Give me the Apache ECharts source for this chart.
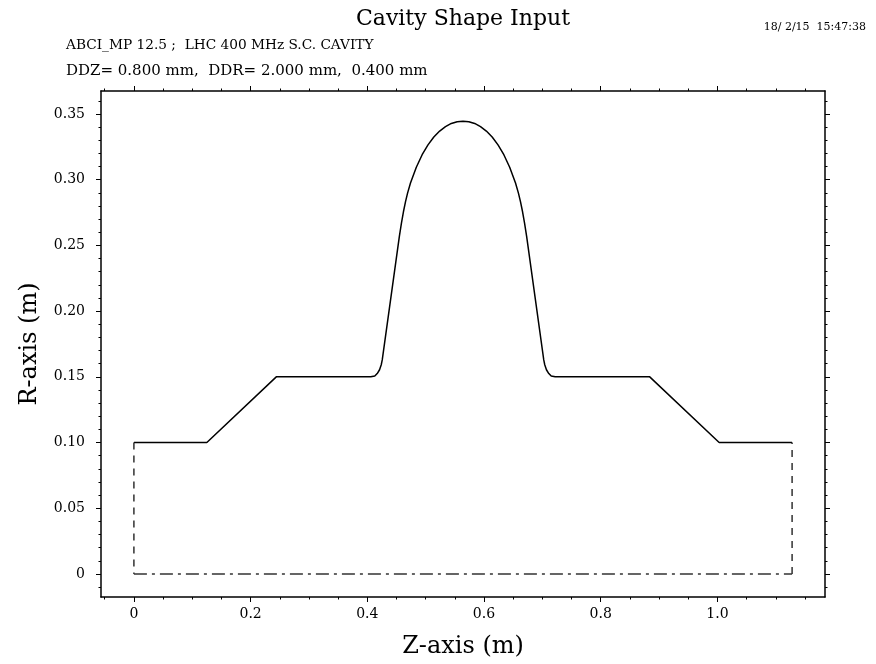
<!DOCTYPE html>
<html>
<head>
<meta charset="utf-8">
<script src="https://cdn.jsdelivr.net/npm/echarts@6/dist/echarts.min.js"></script>
<style>html,body{margin:0;padding:0;background:#fff}#c{width:876px;height:664px}</style>
</head>
<body>
<div id="c"></div>
<script>
// ---- data ----
const titleText = 'Cavity Shape Input';
const dateText = '18/ 2/15  15:47:38';
const subLine1 = 'ABCI_MP 12.5 ;  LHC 400 MHz S.C. CAVITY';
const subLine2 = 'DDZ= 0.800 mm,  DDR= 2.000 mm,  0.400 mm';
const xName = 'Z-axis (m)';
const yName = 'R-axis (m)';

// cavity wall (solid line)
const wallZ = [0, 0.125, 0.244, 0.406, 0.4128, 0.417, 0.421, 0.4239, 0.4256, 0.455, 0.4585, 0.462, 0.4655, 0.469, 0.474, 0.484, 0.494, 0.504, 0.514, 0.524, 0.534, 0.544, 0.554, 0.564,
               0.574, 0.584, 0.594, 0.604, 0.614, 0.624, 0.634, 0.644, 0.654, 0.659, 0.6625, 0.666, 0.6695, 0.673, 0.7024, 0.7041, 0.707, 0.711, 0.7152, 0.722, 0.884, 1.003, 1.128];
const wallR = [0.100, 0.100, 0.150, 0.150, 0.1506, 0.1525, 0.1554, 0.1592, 0.1629, 0.2571, 0.2670, 0.2758, 0.2833, 0.2898, 0.2975, 0.3095, 0.3190, 0.3265, 0.3325, 0.3370, 0.3404, 0.3428, 0.3441, 0.3445,
               0.3441, 0.3428, 0.3404, 0.3370, 0.3325, 0.3265, 0.3190, 0.3095, 0.2975, 0.2898, 0.2833, 0.2758, 0.2670, 0.2571, 0.1629, 0.1592, 0.1554, 0.1525, 0.1506, 0.150, 0.150, 0.100, 0.100];
// dashed end planes
const leftEndZ = [0, 0];
const leftEndR = [0.100, 0];
const rightEndZ = [1.128, 1.128];
const rightEndR = [0, 0.100];
// dash-dot beam axis
const axisZ = [0, 1.128];
const axisR = [0, 0];

// ticks
const xMajorTicks = [0, 0.2, 0.4, 0.6, 0.8, 1.0];
const xLabels = ['0', '0.2', '0.4', '0.6', '0.8', '1.0'];
const xMinorTicks = [-0.05, 0, 0.05, 0.1, 0.15, 0.2, 0.25, 0.3, 0.35, 0.4, 0.45, 0.5, 0.55, 0.6, 0.65, 0.7, 0.75, 0.8, 0.85, 0.9, 0.95, 1.0, 1.05, 1.1, 1.15];
const yMajorTicks = [0, 0.05, 0.10, 0.15, 0.20, 0.25, 0.30, 0.35];
const yLabels = ['0', '0.05', '0.10', '0.15', '0.20', '0.25', '0.30', '0.35'];
const yMinorTicks = [-0.01, 0, 0.01, 0.02, 0.03, 0.04, 0.05, 0.06, 0.07, 0.08, 0.09, 0.10, 0.11, 0.12, 0.13, 0.14, 0.15, 0.16, 0.17, 0.18, 0.19, 0.20,
                     0.21, 0.22, 0.23, 0.24, 0.25, 0.26, 0.27, 0.28, 0.29, 0.30, 0.31, 0.32, 0.33, 0.34, 0.35, 0.36];

const X_MIN = -0.0564, X_MAX = 1.1844;
const Y_MIN = -0.0175, Y_MAX = 0.3675;
const SERIF = '"DejaVu Serif", serif';

const pair = (a, b) => a.map((v, i) => [v, b[i]]);
const fmtX = v => { const i = xMajorTicks.findIndex(t => Math.abs(t - v) < 1e-9); return i >= 0 ? xLabels[i] : ''; };
const fmtY = v => { const i = yMajorTicks.findIndex(t => Math.abs(t - v) < 1e-9); return i >= 0 ? yLabels[i] : ''; };

const lineAx = { show: true, onZero: false, lineStyle: { color: '#000', width: 1.5 } };
const noAx = { show: false, onZero: false };

function xAx(pos, major, withLabel) {
  return {
    type: 'value', position: pos, min: X_MIN, max: X_MAX,
    axisLine: major ? lineAx : noAx,
    splitLine: { show: false },
    axisTick: { show: true, inside: false, length: major ? 5 : 2.5, customValues: major ? xMajorTicks : xMinorTicks, lineStyle: { color: '#000', width: 1 } },
    axisLabel: withLabel ? { show: true, customValues: xMajorTicks, formatter: fmtX, margin: 10, color: '#000', fontFamily: SERIF, fontSize: 14 } : { show: false },
    name: withLabel ? xName : '', nameLocation: 'middle', nameGap: 38,
    nameTextStyle: { fontFamily: SERIF, fontSize: 24, color: '#000' }
  };
}
function yAx(pos, major, withLabel) {
  return {
    type: 'value', position: pos, min: Y_MIN, max: Y_MAX,
    axisLine: major ? lineAx : noAx,
    splitLine: { show: false },
    axisTick: { show: true, inside: false, length: major ? 5 : 2.5, customValues: major ? yMajorTicks : yMinorTicks, lineStyle: { color: '#000', width: 1 } },
    axisLabel: withLabel ? { show: true, customValues: yMajorTicks, formatter: fmtY, margin: 16, color: '#000', fontFamily: SERIF, fontSize: 14 } : { show: false },
    name: withLabel ? yName : '', nameLocation: 'middle', nameGap: 59, nameRotate: 90,
    nameTextStyle: { fontFamily: SERIF, fontSize: 24, color: '#000' }
  };
}

const chart = echarts.init(document.getElementById('c'), null, { renderer: 'canvas' });
chart.setOption({
  animation: false,
  backgroundColor: '#fff',
  grid: { left: 101, right: 51, top: 91, bottom: 66, containLabel: false },
  xAxis: [xAx('bottom', true, true), xAx('bottom', false, false), xAx('top', true, false), xAx('top', false, false)],
  yAxis: [yAx('left', true, true), yAx('left', false, false), yAx('right', true, false), yAx('right', false, false)],
  graphic: [
    { type: 'text', x: 463, y: 19, style: { text: titleText, font: '22px ' + SERIF, fill: '#000', textAlign: 'center', textVerticalAlign: 'middle' } },
    { type: 'text', x: 866, y: 27, style: { text: dateText, font: '11px ' + SERIF, fill: '#000', textAlign: 'right', textVerticalAlign: 'middle' } },
    { type: 'text', x: 66, y: 45, style: { text: subLine1, font: '13.7px ' + SERIF, fill: '#000', textAlign: 'left', textVerticalAlign: 'middle' } },
    { type: 'text', x: 66, y: 71, style: { text: subLine2, font: '15px ' + SERIF, fill: '#000', textAlign: 'left', textVerticalAlign: 'middle' } }
  ],
  series: [
    { name: 'wall', type: 'line', data: pair(wallZ, wallR), showSymbol: false, symbol: 'none', lineStyle: { color: '#000', width: 1.5 }, xAxisIndex: 0, yAxisIndex: 0 },
    { name: 'leftEnd', type: 'line', data: pair(leftEndZ, leftEndR), showSymbol: false, symbol: 'none', lineStyle: { color: '#222', width: 1.4, type: [7, 6] } },
    { name: 'rightEnd', type: 'line', data: pair(rightEndZ, rightEndR), showSymbol: false, symbol: 'none', lineStyle: { color: '#222', width: 1.4, type: [7, 6] } },
    { name: 'beamAxis', type: 'line', data: pair(axisZ, axisR), showSymbol: false, symbol: 'none', lineStyle: { color: '#333', width: 1.4, type: [13, 5, 3, 5] } }
  ]
});
</script>
</body>
</html>
